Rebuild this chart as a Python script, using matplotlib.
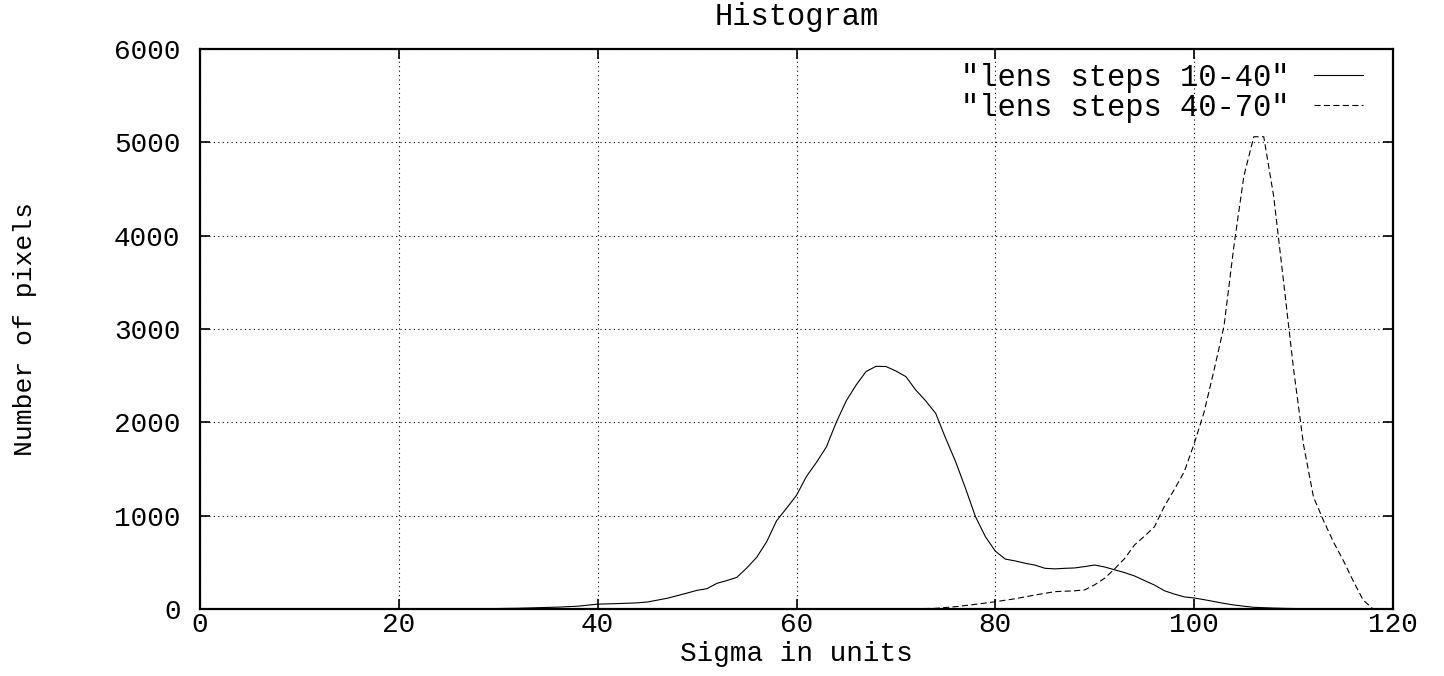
import matplotlib
matplotlib.use('Agg')
import matplotlib.pyplot as plt

# lens steps 10-40
sigma_a = [26, 28, 30, 32, 34, 36, 38, 40, 42, 44, 45, 47, 49, 50, 51, 52, 53, 54, 55, 56,
           57, 58, 59, 60, 61, 62, 63, 64, 65, 66, 67, 68, 69, 70, 71, 72, 73, 74, 75, 76,
           77, 78, 79, 80, 81, 82, 83, 84, 85, 86, 87, 88, 89, 90, 91, 92, 93, 94, 95, 96,
           97, 98, 99, 100, 101, 102, 103, 104, 105, 106, 107, 108, 109, 110, 111, 112]
count_a = [0, 2, 5, 8, 14, 20, 30, 52, 58, 66, 75, 115, 171, 200, 218, 275, 305, 339, 440, 554,
           721, 946, 1080, 1218, 1420, 1570, 1735, 2000, 2230, 2400, 2545, 2600, 2598, 2550, 2490, 2346, 2230, 2096, 1830, 1580,
           1293, 990, 775, 620, 535, 515, 490, 470, 436, 430, 436, 440, 455, 471, 450, 420, 390, 354, 305, 257,
           196, 160, 130, 118, 100, 80, 60, 43, 30, 18, 14, 10, 7, 5, 2, 0]

# lens steps 40-70
sigma_b = [70, 72, 74, 76, 78, 80, 82, 84, 86, 88, 89, 90, 91, 92, 93, 94, 95, 96, 97, 98,
           99, 100, 101, 102, 103, 104, 105, 106, 107, 108, 109, 110, 111, 112, 113, 114, 115, 116, 117, 118]
count_b = [0, 3, 7, 25, 50, 78, 110, 150, 186, 195, 205, 260, 330, 430, 540, 686, 780, 880, 1100, 1280,
           1470, 1770, 2110, 2560, 3030, 3890, 4640, 5060, 5060, 4420, 3500, 2570, 1760, 1200, 950, 720, 520, 300, 96, 0]

plt.rcParams['font.family'] = ['Liberation Mono', 'DejaVu Sans Mono']
fs = 22

fig = plt.figure(figsize=(14.44, 6.76), dpi=100)
ax = fig.add_axes([200/1444, 67/676, 1193/1444, 560/676])

ax.plot(sigma_a, count_a, color='black', lw=0.8, label='"lens steps 10-40"')
ax.plot(sigma_b, count_b, color='black', lw=0.8, dashes=[5.5, 3], label='"lens steps 40-70"')

ax.set_xlim(0, 120)
ax.set_ylim(0, 6000)
ax.set_xticks(range(0, 121, 20))
ax.set_yticks(range(0, 6001, 1000))
ax.grid(True, color='black', lw=0.8, linestyle=(0, (1, 3)))
ax.set_axisbelow(True)

for s in ax.spines.values():
    s.set_linewidth(1.6)
ax.tick_params(direction='in', length=7.5, width=1.2, top=True, right=True, labelsize=20)
ax.tick_params(axis='x', pad=2.5)
ax.tick_params(axis='y', pad=14)

ax.set_title('Histogram', fontsize=fs, pad=17)
ax.set_xlabel('Sigma in units', fontsize=20)
ax.xaxis.set_label_coords(0.5, -0.058)
ax.set_ylabel('Number of pixels', fontsize=19)
ax.yaxis.set_label_coords(-0.137, 0.5)

ax.legend(loc='upper right', bbox_to_anchor=(0.975, 0.975), frameon=False, markerfirst=False,
          fontsize=fs, handlelength=1.6, handletextpad=0.8, borderpad=0, borderaxespad=0,
          labelspacing=0.0)

fig.savefig('out.png', dpi=100)
